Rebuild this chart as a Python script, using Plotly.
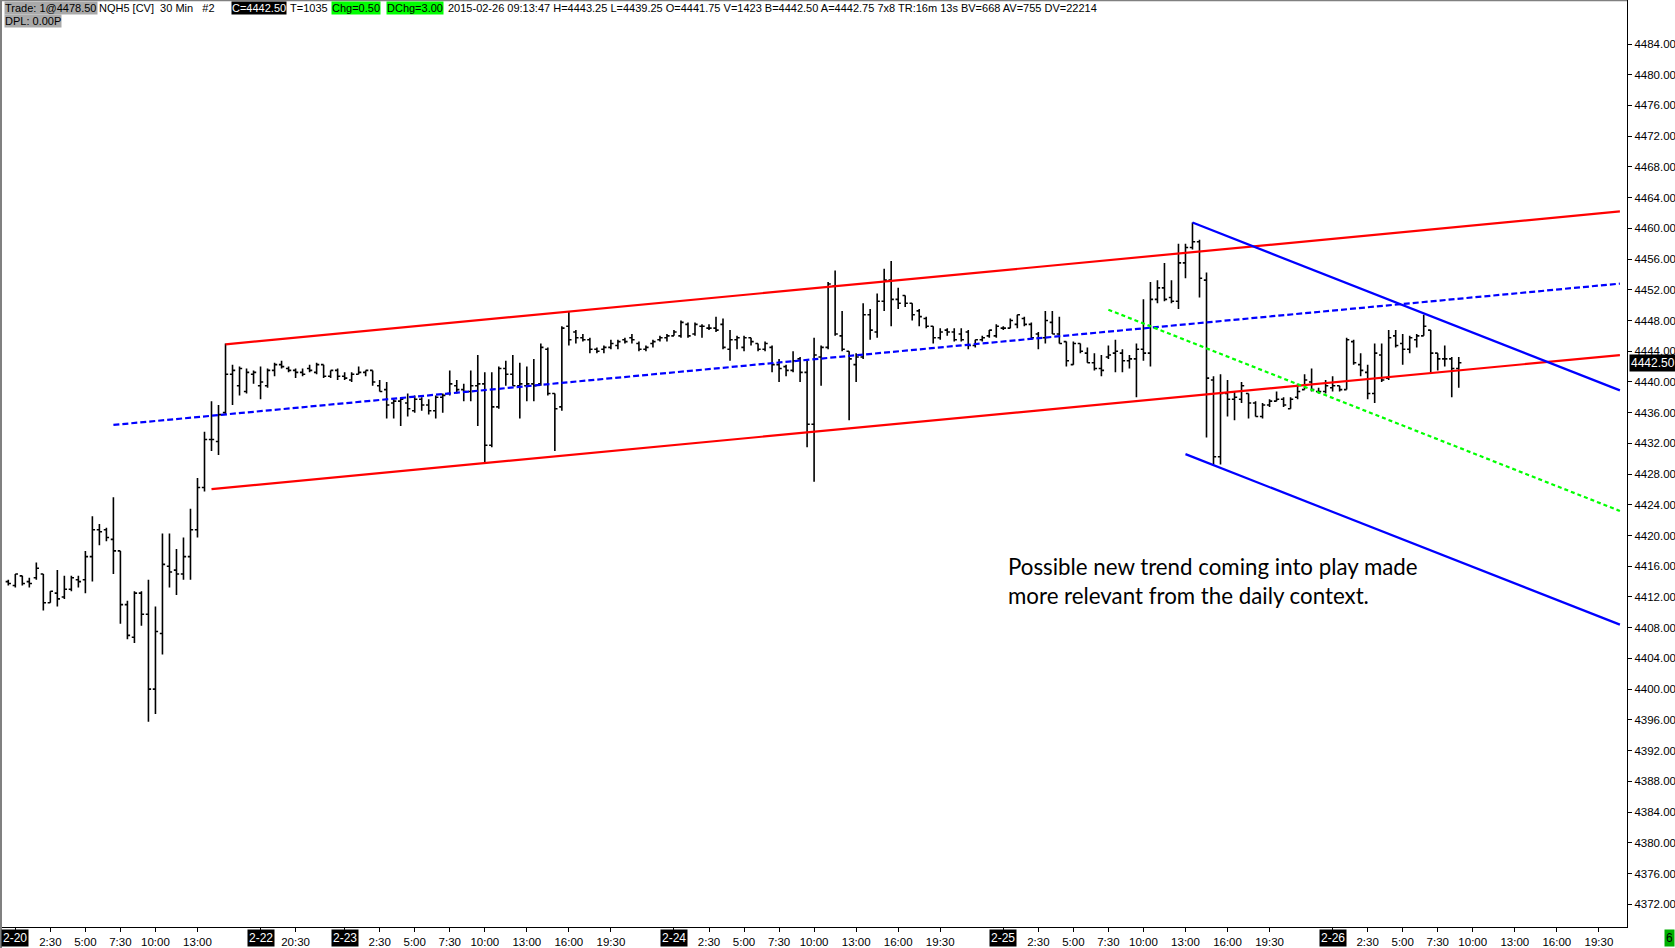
import plotly.graph_objects as go

# ---------------- data (30-min bars, NQH5) ----------------
opens = [4414.0, 4413.5, 4414.75, 4414.0, 4414.5, 4415.0, 4411.25, 4412.5, 4412.0, 4413.0,
         4414.25, 4414.25, 4417.25, 4420.75, 4420.75, 4419.5, 4418.0, 4411.0, 4406.75, 4412.5,
         4409.75, 4400.0, 4407.25, 4416.0, 4415.5, 4415.0, 4417.25, 4420.75, 4426.25, 4432.5,
         4432.25, 4436.0, 4441.0, 4439.5, 4438.75, 4441.0, 4439.5, 4439.5, 4441.5, 4442.25,
         4441.75, 4441.5, 4441.25, 4441.75, 4441.25, 4442.25, 4440.75, 4441.5, 4440.75, 4440.25,
         4441.0, 4441.25, 4441.5, 4439.5, 4439.0, 4437.25, 4437.5, 4437.25, 4436.25, 4437.75,
         4437.0, 4436.25, 4438.0, 4438.5, 4439.5, 4439.0, 4438.75, 4439.5, 4439.75, 4431.75,
         4436.75, 4441.75, 4441.0, 4439.5, 4439.5, 4439.75, 4439.75, 4444.25, 4438.5, 4436.75,
         4447.25, 4446.5, 4445.75, 4445.5, 4444.25, 4444.25, 4444.5, 4444.75, 4445.5, 4445.75,
         4445.0, 4444.25, 4445.0, 4445.5, 4445.75, 4446.0, 4446.0, 4447.5, 4446.25, 4447.25,
         4447.0, 4447.0, 4447.5, 4444.25, 4445.5, 4444.5, 4445.75, 4445.0, 4444.25, 4444.5,
         4442.25, 4442.0, 4441.5, 4443.0, 4441.25, 4434.5, 4443.25, 4444.5, 4452.5, 4446.0,
         4444.0, 4442.25, 4443.25, 4448.75, 4446.5, 4450.5, 4453.25, 4450.75, 4451.25, 4450.25,
         4449.25, 4448.25, 4447.25, 4445.75, 4446.75, 4446.5, 4446.25, 4446.5, 4444.75, 4445.5,
         4446.0, 4446.0, 4447.0, 4447.0, 4447.5, 4448.25, 4447.5, 4446.25, 4445.75, 4447.75,
         4446.25, 4445.25, 4442.25, 4445.0, 4443.75, 4442.5, 4441.75, 4443.25, 4443.75, 4443.75,
         4442.75, 4443.0, 4444.25, 4443.75, 4450.75, 4452.25, 4451.0, 4450.5, 4455.5, 4457.5,
         4458.25, 4453.25, 4440.25, 4430.25, 4438.5, 4437.75, 4437.75, 4438.5, 4437.25, 4435.5,
         4437.0, 4437.5, 4437.75, 4436.5, 4438.0, 4439.0, 4440.0, 4438.75, 4438.75, 4439.25,
         4439.5, 4439.0, 4445.25, 4442.25, 4441.25, 4438.5, 4443.5, 4440.5, 4446.0, 4445.0,
         4444.25, 4445.5, 4446.0, 4446.75, 4443.75, 4443.0, 4443.0, 4441.75]
highs = [4414.25, 4415.0, 4414.75, 4414.5, 4416.5, 4415.0, 4412.75, 4415.5, 4414.75, 4414.75,
         4414.75, 4418.0, 4422.5, 4421.5, 4421.0, 4425.0, 4418.0, 4411.5, 4412.75, 4412.75,
         4414.25, 4410.75, 4420.25, 4420.25, 4418.25, 4419.75, 4423.5, 4427.5, 4433.5, 4437.5,
         4437.0, 4445.0, 4442.25, 4442.0, 4441.75, 4441.5, 4442.0, 4441.75, 4442.5, 4442.75,
         4442.0, 4441.75, 4441.75, 4442.25, 4442.5, 4442.25, 4441.5, 4441.75, 4441.25, 4441.25,
         4442.0, 4441.5, 4441.5, 4440.25, 4440.0, 4437.75, 4438.0, 4438.5, 4438.25, 4438.0,
         4437.75, 4438.25, 4438.5, 4441.5, 4440.25, 4439.75, 4441.5, 4443.5, 4441.25, 4441.25,
         4442.0, 4442.75, 4443.5, 4442.5, 4442.0, 4443.0, 4445.0, 4444.5, 4438.5, 4447.25,
         4449.25, 4446.75, 4446.25, 4445.75, 4444.5, 4444.75, 4445.5, 4445.5, 4445.75, 4446.25,
         4445.25, 4444.75, 4445.5, 4446.0, 4446.25, 4446.75, 4448.0, 4447.75, 4447.75, 4447.5,
         4447.5, 4448.5, 4448.25, 4446.75, 4446.0, 4446.0, 4445.75, 4445.0, 4445.25, 4444.75,
         4443.0, 4442.25, 4444.0, 4443.25, 4442.75, 4445.75, 4444.75, 4453.0, 4454.5, 4449.25,
         4444.0, 4443.75, 4450.25, 4449.5, 4451.5, 4454.75, 4455.75, 4452.25, 4451.25, 4450.25,
         4449.5, 4448.5, 4447.25, 4447.0, 4447.0, 4447.0, 4447.0, 4446.75, 4445.5, 4446.0,
         4446.75, 4447.5, 4447.25, 4448.25, 4448.75, 4448.5, 4447.75, 4446.5, 4449.25, 4449.25,
         4448.5, 4445.25, 4445.25, 4445.0, 4444.5, 4443.75, 4443.5, 4444.75, 4445.5, 4444.25,
         4443.5, 4445.0, 4450.75, 4453.0, 4453.25, 4455.5, 4453.25, 4458.0, 4458.0, 4460.75,
         4458.5, 4454.25, 4440.75, 4441.0, 4440.25, 4438.75, 4440.0, 4438.5, 4437.5, 4437.25,
         4437.75, 4438.75, 4438.0, 4438.0, 4439.75, 4441.0, 4441.75, 4439.25, 4440.25, 4440.75,
         4439.5, 4445.75, 4445.5, 4443.75, 4442.25, 4445.0, 4445.0, 4446.75, 4446.75, 4446.25,
         4446.0, 4446.25, 4448.75, 4446.75, 4443.75, 4444.75, 4443.25, 4443.25]
lows = [4413.5, 4413.25, 4413.5, 4413.25, 4414.25, 4410.25, 4411.25, 4410.75, 4411.75, 4412.75,
        4413.25, 4412.5, 4414.0, 4418.75, 4419.25, 4415.0, 4408.5, 4406.5, 4406.0, 4408.25,
        4395.75, 4396.75, 4404.5, 4413.25, 4412.25, 4414.25, 4414.25, 4419.75, 4425.75, 4431.0,
        4430.5, 4435.75, 4437.0, 4438.25, 4438.5, 4439.75, 4437.75, 4439.25, 4440.75, 4441.75,
        4441.25, 4440.5, 4440.75, 4441.25, 4441.0, 4440.5, 4440.5, 4440.25, 4440.25, 4440.0,
        4441.0, 4440.75, 4439.5, 4438.75, 4435.25, 4435.25, 4434.25, 4435.5, 4436.0, 4436.25,
        4435.75, 4435.25, 4436.0, 4438.25, 4438.5, 4437.5, 4437.5, 4434.25, 4429.5, 4431.5,
        4436.5, 4439.5, 4439.5, 4435.25, 4437.5, 4437.5, 4439.5, 4438.25, 4431.0, 4436.25,
        4444.75, 4445.0, 4445.25, 4443.75, 4443.75, 4443.75, 4444.25, 4444.25, 4445.0, 4445.0,
        4444.0, 4444.0, 4444.5, 4445.25, 4445.25, 4446.0, 4445.75, 4445.75, 4446.0, 4445.75,
        4446.75, 4446.5, 4444.25, 4442.75, 4444.25, 4444.0, 4444.75, 4444.0, 4444.0, 4441.25,
        4440.0, 4440.75, 4441.25, 4440.0, 4431.5, 4427.0, 4439.5, 4444.25, 4446.0, 4444.0,
        4435.0, 4440.0, 4443.0, 4445.5, 4445.75, 4449.25, 4447.25, 4449.5, 4449.75, 4448.0,
        4447.25, 4447.0, 4445.0, 4445.5, 4446.0, 4445.25, 4445.25, 4444.25, 4444.5, 4445.25,
        4445.75, 4445.75, 4446.75, 4447.0, 4447.0, 4447.25, 4445.5, 4444.25, 4445.0, 4446.25,
        4445.0, 4442.0, 4442.25, 4443.75, 4442.5, 4441.5, 4440.75, 4443.0, 4441.25, 4441.25,
        4441.75, 4438.0, 4442.75, 4442.0, 4450.25, 4450.5, 4450.25, 4449.5, 4453.5, 4457.25,
        4451.0, 4432.75, 4429.25, 4429.25, 4435.5, 4435.0, 4437.25, 4435.25, 4435.5, 4435.25,
        4436.75, 4437.5, 4436.75, 4436.5, 4437.75, 4439.0, 4438.75, 4438.5, 4438.5, 4438.75,
        4438.75, 4439.0, 4442.25, 4440.75, 4437.75, 4437.25, 4440.0, 4440.25, 4444.5, 4442.25,
        4443.75, 4444.5, 4446.0, 4441.25, 4441.5, 4442.0, 4438.0, 4439.25]
closes = [4413.75, 4415.0, 4413.75, 4413.75, 4415.75, 4411.25, 4412.75, 4411.75, 4413.0, 4414.5,
          4414.0, 4417.25, 4420.75, 4420.5, 4419.75, 4418.0, 4411.0, 4407.0, 4412.5, 4409.75,
          4400.0, 4407.5, 4416.25, 4415.25, 4415.0, 4417.25, 4420.75, 4426.25, 4432.5, 4432.5,
          4435.75, 4441.0, 4441.5, 4441.75, 4441.25, 4441.25, 4440.0, 4441.5, 4442.25, 4442.0,
          4441.5, 4441.25, 4441.0, 4441.5, 4442.25, 4440.75, 4441.5, 4440.75, 4440.5, 4441.0,
          4441.25, 4441.5, 4440.0, 4438.75, 4437.0, 4437.5, 4437.75, 4436.5, 4437.75, 4437.0,
          4436.25, 4438.0, 4438.25, 4439.75, 4439.0, 4438.75, 4439.5, 4439.75, 4431.75, 4436.75,
          4441.75, 4441.0, 4439.5, 4439.75, 4439.75, 4439.5, 4444.5, 4438.5, 4436.5, 4447.0,
          4445.5, 4445.75, 4445.5, 4444.25, 4444.0, 4444.5, 4445.0, 4445.25, 4445.25, 4445.5,
          4444.25, 4444.5, 4445.25, 4445.75, 4446.0, 4446.5, 4447.75, 4446.0, 4447.5, 4447.25,
          4447.0, 4446.75, 4444.5, 4445.5, 4445.75, 4445.75, 4445.25, 4444.25, 4445.0, 4442.25,
          4441.75, 4441.5, 4442.75, 4441.25, 4434.5, 4443.5, 4444.5, 4452.75, 4446.25, 4444.25,
          4443.0, 4443.25, 4448.75, 4446.75, 4450.5, 4453.25, 4450.75, 4450.25, 4450.25, 4448.75,
          4448.5, 4447.25, 4445.75, 4446.5, 4446.5, 4445.5, 4445.5, 4444.75, 4445.5, 4445.75,
          4446.75, 4447.25, 4447.0, 4448.0, 4448.75, 4447.5, 4445.75, 4445.75, 4448.0, 4446.25,
          4445.0, 4442.75, 4445.0, 4444.0, 4442.5, 4441.75, 4441.5, 4443.5, 4444.0, 4442.75,
          4443.0, 4444.25, 4443.75, 4450.75, 4452.25, 4450.75, 4450.5, 4455.5, 4457.5, 4458.25,
          4453.5, 4440.5, 4430.25, 4438.5, 4437.75, 4438.0, 4439.5, 4437.25, 4435.5, 4437.0,
          4437.5, 4437.75, 4437.0, 4437.75, 4438.75, 4440.25, 4439.0, 4438.75, 4439.5, 4439.5,
          4439.0, 4445.5, 4442.5, 4441.5, 4438.5, 4443.75, 4440.25, 4445.75, 4444.75, 4444.25,
          4445.75, 4446.0, 4447.25, 4443.75, 4443.0, 4443.0, 4441.75, 4442.5]

# x-axis labels (bar index positions)
time_idx = [6, 11, 16, 21, 27, 41, 53, 58, 63, 68, 74, 80, 86,
            100, 105, 110, 115, 121, 127, 133, 147, 152, 157, 162, 168, 174, 180,
            194, 199, 204, 209, 215, 221, 227]
time_txt = ["2:30", "5:00", "7:30", "10:00", "13:00", "20:30", "2:30", "5:00", "7:30", "10:00",
            "13:00", "16:00", "19:30", "2:30", "5:00", "7:30", "10:00", "13:00", "16:00", "19:30",
            "2:30", "5:00", "7:30", "10:00", "13:00", "16:00", "19:30",
            "2:30", "5:00", "7:30", "10:00", "13:00", "16:00", "19:30"]
day_idx = [1, 36, 48, 95, 142, 189]
day_txt = ["2-20", "2-22", "2-23", "2-24", "2-25", "2-26"]

# y-axis ticks
y_ticks = [4372 + 4 * k for k in range(29)]

# drawn trend lines (bar index, price)
red_upper_x, red_upper_y = [31, 230], [4444.9, 4462.2]
red_lower_x, red_lower_y = [29, 230], [4426.05, 4443.5]
blue_mid_x, blue_mid_y = [15, 230], [4434.4, 4452.8]
green_mid_x, green_mid_y = [157, 230], [4449.4, 4423.2]
blue_up_x, blue_up_y = [169, 230], [4460.75, 4438.9]
blue_low_x, blue_low_y = [168, 230], [4430.6, 4408.4]

header_items = [
    ("Trade: 1@4478.50", 4, "#A9A9A9", "black"),
    ("NQH5\u00a0[CV]\u00a0\u00a030\u00a0Min\u00a0\u00a0\u00a0#2", 98, None, "black"),
    ("C=4442.50", 231, "black", "white"),
    ("T=1035", 289, None, "black"),
    ("Chg=0.50", 331, "#00FF00", "black"),
    ("DChg=3.00", 386, "#00FF00", "black"),
    ("2015-02-26 09:13:47 H=4443.25 L=4439.25 O=4441.75 V=1423 B=4442.50 A=4442.75 7x8 "
     "TR:16m 13s BV=668 AV=755 DV=22214", 447, None, "black"),
]
note_text = "Possible new trend coming into play made<br>more relevant from the daily context."

# ---------------- layout geometry ----------------
W, H = 1675, 948
ML, MR, MT, MB = 2, 48, 0, 21
PW, PH = W - ML - MR, H - MT - MB


def px(x):
    return (x - ML) / PW


def py(y):
    return 1 - (y - MT) / PH


FONT = "Liberation Sans, Arial, sans-serif"

fig = go.Figure()
xs = list(range(len(opens)))
fig.add_trace(go.Ohlc(
    x=xs, open=opens, high=highs, low=lows, close=closes,
    increasing=dict(line=dict(color="black", width=1.6)),
    decreasing=dict(line=dict(color="black", width=1.6)),
    tickwidth=0.38, showlegend=False, hoverinfo="x+y"))

for lx, ly, col, dash in [
    (red_upper_x, red_upper_y, "#FF0000", "solid"),
    (red_lower_x, red_lower_y, "#FF0000", "solid"),
    (blue_mid_x, blue_mid_y, "#0000FF", "6px,3px"),
    (green_mid_x, green_mid_y, "#00FF00", "4px,3px"),
    (blue_up_x, blue_up_y, "#0000FF", "solid"),
    (blue_low_x, blue_low_y, "#0000FF", "solid"),
]:
    fig.add_trace(go.Scatter(x=lx, y=ly, mode="lines",
                             line=dict(color=col, width=2.2, dash=dash),
                             showlegend=False, hoverinfo="skip"))

annotations = []
for t, x0, bg, fc in header_items:
    a = dict(text=t, xref="paper", yref="paper", x=px(x0), y=py(8.5),
             xanchor="left", yanchor="middle", showarrow=False,
             font=dict(family=FONT, size=11, color=fc), borderpad=0)
    if bg:
        a["bgcolor"] = bg
    annotations.append(a)
annotations.append(dict(text="DPL: 0.00P", xref="paper", yref="paper", x=px(4), y=py(21.5),
                        xanchor="left", yanchor="middle", showarrow=False, bgcolor="#A9A9A9",
                        font=dict(family=FONT, size=11, color="black"), borderpad=0))

for d, t in zip(day_idx, day_txt):
    annotations.append(dict(text=t, xref="x", yref="paper", x=d, y=py(938),
                            xanchor="center", yanchor="middle", showarrow=False,
                            bgcolor="black", font=dict(family=FONT, size=12, color="white"),
                            borderpad=1))

annotations.append(dict(text=note_text, xref="paper", yref="paper", x=px(1006), y=py(551),
                        xanchor="left", yanchor="top", align="left", showarrow=False,
                        font=dict(family="Lato, Open Sans, sans-serif", size=22.3, color="black")))

annotations.append(dict(text="%.2f" % closes[-1], xref="paper", yref="y", x=px(1629),
                        y=closes[-1], xanchor="left", yanchor="middle", showarrow=False,
                        bgcolor="black", font=dict(family=FONT, size=12, color="white"),
                        borderpad=1))
annotations.append(dict(text="6", xref="paper", yref="paper", x=px(1664), y=py(938),
                        xanchor="left", yanchor="middle", showarrow=False, bgcolor="#00B000",
                        font=dict(family=FONT, size=12, color="black"), borderpad=1))

shapes = [
    dict(type="rect", xref="paper", yref="paper", x0=px(0), x1=px(2), y0=py(H), y1=py(0),
         fillcolor="#808080", line=dict(width=0), layer="above"),
    dict(type="line", xref="paper", yref="paper", x0=px(0), x1=px(1627), y0=py(0.5), y1=py(0.5),
         line=dict(color="#808080", width=1.5), layer="above"),
]

fig.update_layout(
    width=W, height=H, margin=dict(l=ML, r=MR, t=MT, b=MB),
    paper_bgcolor="white", plot_bgcolor="white",
    annotations=annotations, shapes=shapes, showlegend=False,
    xaxis=dict(range=[(ML - 8.3) / 7.007, (W - MR - 8.3) / 7.007],
               tickmode="array", tickvals=time_idx + day_idx,
               ticktext=time_txt + [""] * len(day_idx),
               ticks="outside", ticklen=4, tickcolor="black",
               showline=True, linecolor="black", linewidth=1.2,
               showgrid=False, zeroline=False,
               tickfont=dict(family=FONT, size=11.5, color="black"),
               rangeslider=dict(visible=False)),
    yaxis=dict(side="right", range=[4369.03, 4489.73],
               tickmode="array", tickvals=y_ticks, tickformat=".2f",
               ticks="outside", ticklen=4, tickcolor="black",
               showline=True, linecolor="black", linewidth=1.2,
               showgrid=False, zeroline=False,
               tickfont=dict(family=FONT, size=11.5, color="black")),
)

fig.write_html("out.html", config={"displayModeBar": False},
               post_script="document.body.style.margin='0';document.body.style.overflow='hidden';")
